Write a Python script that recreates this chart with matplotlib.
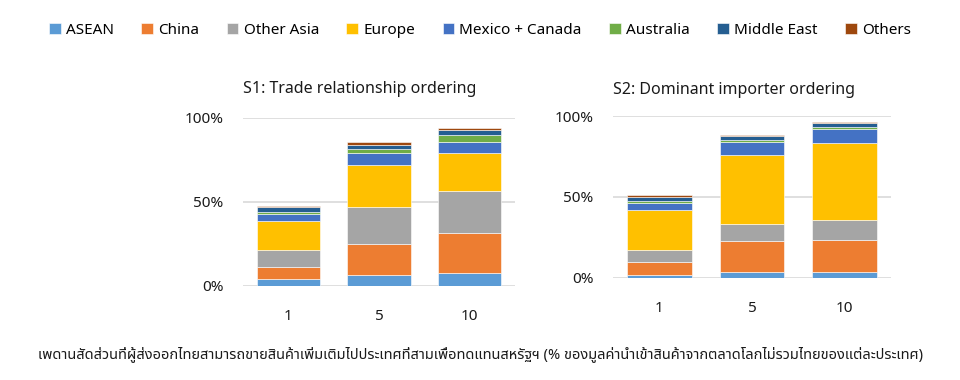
import matplotlib
matplotlib.use("Agg")
import matplotlib.pyplot as plt
import numpy as np

# ข้อมูล (อ่านจากภาพ, % ของมูลค่านำเข้า)
regions = ["ASEAN", "China", "Other Asia", "Europe", "Mexico + Canada",
           "Australia", "Middle East", "Others"]
colors = ["#5B9BD5", "#ED7D31", "#A5A5A5", "#FFC000", "#4472C4",
          "#70AD47", "#255E91", "#9E480E"]
x_labels = ["1", "5", "10"]

# S1: Trade relationship ordering
s1_asean = [3.8, 6.5, 7.7]
s1_china = [7.3, 18.3, 23.6]
s1_other_asia = [10.1, 22.0, 25.0]
s1_europe = [17.1, 24.8, 22.7]
s1_mex_can = [4.2, 7.2, 6.5]
s1_australia = [1.6, 2.8, 4.0]
s1_middle_east = [2.8, 2.4, 3.4]
s1_others = [0.6, 1.6, 0.9]

# S2: Dominant importer ordering
s2_asean = [1.9, 3.7, 3.7]
s2_china = [8.0, 19.0, 19.6]
s2_other_asia = [7.2, 10.3, 12.6]
s2_europe = [24.8, 43.1, 47.6]
s2_mex_can = [4.1, 8.0, 8.7]
s2_australia = [1.2, 1.3, 0.8]
s2_middle_east = [2.9, 2.2, 2.7]
s2_others = [1.0, 0.6, 0.6]

caption = ("เพดานสัดส่วนที่ผู้ส่งออกไทยสามารถขายสินค้าเพิ่มเติมไปประเทศที่สามเพื่อทดแทนสหรัฐฯ "
           "(% ของมูลค่านำเข้าสินค้าจากตลาดโลกไม่รวมไทยของแต่ละประเทศ)")

latin_font = ["Noto Sans", "DejaVu Sans"]
thai_font = ["Noto Sans Thai", "Sarabun", "Athiti", "Noto Sans", "DejaVu Sans"]
plt.rcParams["font.family"] = latin_font

s1 = [s1_asean, s1_china, s1_other_asia, s1_europe, s1_mex_can,
      s1_australia, s1_middle_east, s1_others]
s2 = [s2_asean, s2_china, s2_other_asia, s2_europe, s2_mex_can,
      s2_australia, s2_middle_east, s2_others]

fig = plt.figure(figsize=(9.6, 3.8), dpi=100)
ax1 = fig.add_axes([243 / 960, 1 - 285.7 / 380, 272 / 960, 168 / 380])
ax2 = fig.add_axes([613 / 960, 1 - 277.7 / 380, 278 / 960, 161.7 / 380])

def draw(ax, series, title, title_pad):
    xs = np.arange(len(x_labels))
    bottom = np.zeros(len(x_labels))
    for vals, c, name in zip(series, colors, regions):
        ax.bar(xs, vals, 0.7, bottom=bottom, color=c, label=name,
               edgecolor="white", linewidth=0.4, zorder=3)
        bottom += np.array(vals)
    ax.set_xlim(-0.5, 2.5)
    ax.set_ylim(0, 100)
    ax.set_yticks([0, 50, 100])
    ax.set_yticklabels(["0%", "50%", "100%"])
    ax.set_xticks(xs)
    ax.set_xticklabels(x_labels)
    ax.grid(axis="y", color="#D9D9D9", linewidth=1.2, zorder=0)
    for s in ax.spines.values():
        s.set_visible(False)
    ax.tick_params(length=0, labelsize=11, colors="#1a1a1a")
    ax.tick_params(axis="y", pad=14)
    ax.tick_params(axis="x", pad=17)
    ax.set_title(title, fontsize=11.5, pad=title_pad, color="#1a1a1a", loc="left")

draw(ax1, s1, "S1: Trade relationship ordering", 18)
draw(ax2, s2, "S2: Dominant importer ordering", 16)

handles, labels = ax1.get_legend_handles_labels()
fig.legend(handles, labels, loc="center", bbox_to_anchor=(0.500, 0.92),
           ncol=8, frameon=False, fontsize=11, handlelength=0.75,
           handleheight=0.75, handletextpad=0.35, columnspacing=1.8)

fig.text(0.5, 1 - 354 / 380, caption, ha="center", va="center",
         fontsize=10.5, family=thai_font, color="#1a1a1a")

fig.savefig("out.png")
